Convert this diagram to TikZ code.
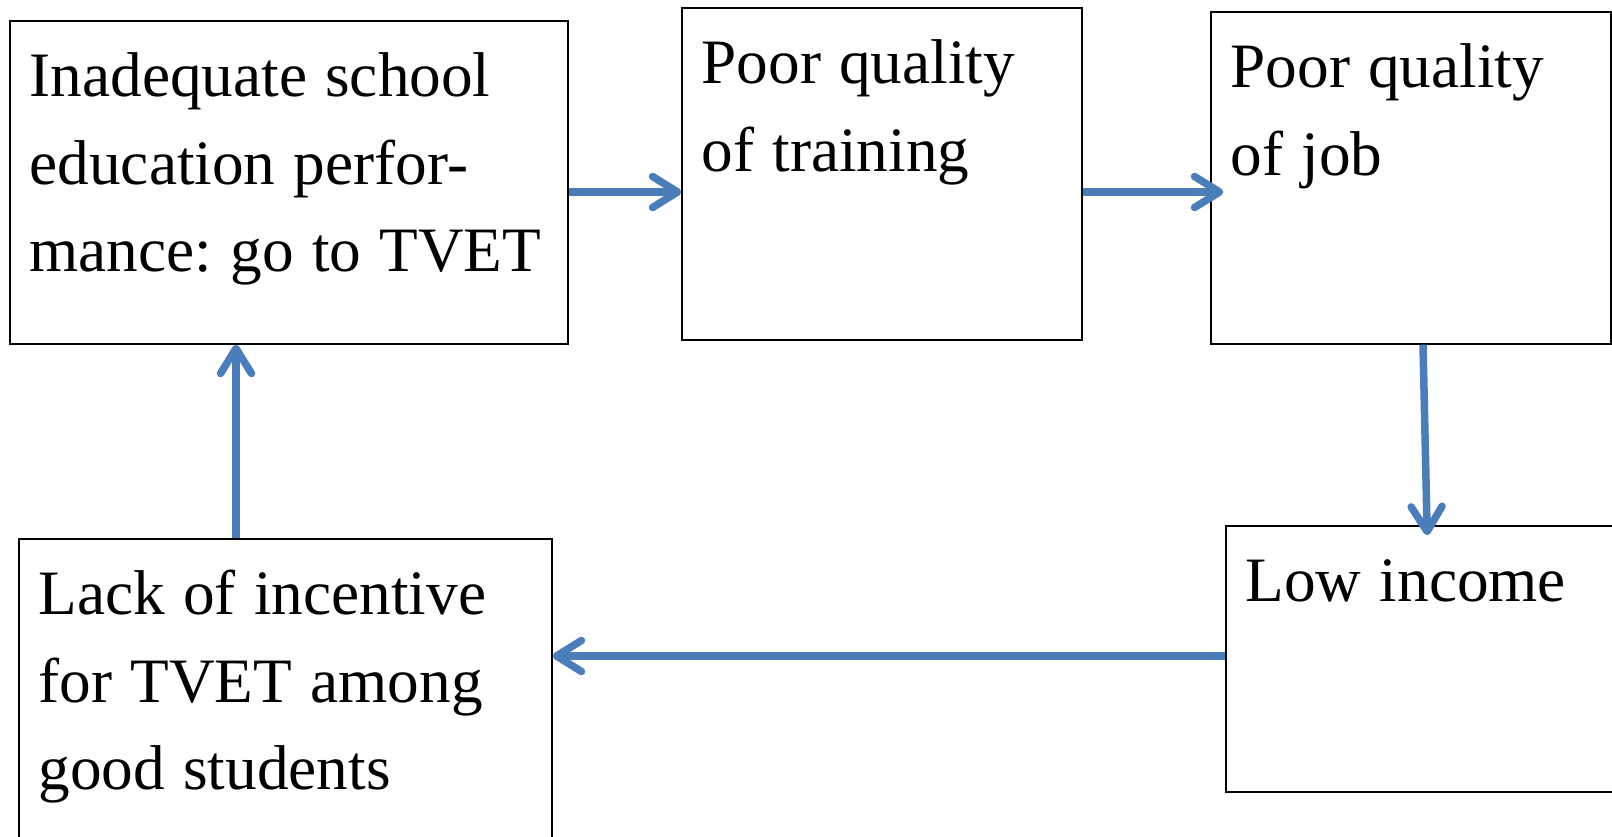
\documentclass[tikz,border=0pt]{standalone}
\usepackage{fontspec}
\setmainfont{Liberation Serif}
\frenchspacing
\usetikzlibrary{arrows.meta}
\definecolor{arrowblue}{HTML}{4A7EBB}

\begin{document}
\begin{tikzpicture}[x=0.02cm, y=-0.02cm,
        box/.style={draw=black, line width=0.03cm, inner sep=0pt},
        txt/.style={anchor=base west, inner sep=0pt, align=left, text width=14cm,
            font=\fontsize{36}{50}\selectfont,
            execute at begin node={\spaceskip=10.4pt\relax}},
        flow/.style={draw=arrowblue, line width=0.15cm,
            -{Straight Barb[length=0.5cm, width=0.62cm, round]}}]
    \useasboundingbox (0,0) rectangle (1612,837);
    \clip (0,0) rectangle (1612,837);

    \node[box, minimum width=11.16cm, minimum height=6.46cm] (school) at (289,182.5) {};
    \node[box, minimum width=8cm, minimum height=6.64cm] (training) at (882,174) {};
    \node[box, minimum width=8cm, minimum height=6.64cm] (job) at (1411,178) {};
    \node[box, minimum width=8cm, minimum height=5.32cm] (income) at (1426,659) {};
    \node[box, minimum width=10.66cm, minimum height=6.46cm] (incentive) at (285.5,700.5) {};

    \node[txt] (schooltext) at ([shift={(20,76)}]school.north west)
        {Inadequate school\\education perfor-\\mance: go to TVET};
    \node[txt] (trainingtext) at ([shift={(20,76)}]training.north west)
        {Poor quality\\of training};
    \node[txt] (jobtext) at ([shift={(20,76)}]job.north west)
        {Poor quality\\of job};
    \node[txt] (incometext) at ([shift={(20,76)}]income.north west)
        {Low income};
    \node[txt] (incentivetext) at ([shift={(20,76)}]incentive.north west)
        {Lack of incentive\\for TVET among\\good students};

    \draw[flow] (school.east |- 0,192) -- (training.west |- 0,192);
    \draw[flow, shorten >=-0.26cm] (training.east |- 0,192) -- (job.west |- 0,192);
    \draw[flow, shorten >=-0.2cm] (job.south -| 1423,0) -- (income.north -| 1427,0);
    \draw[flow] (income.west |- 0,656) -- (incentive.east |- 0,656);
    \draw[flow] (incentive.north -| 236,0) -- (school.south -| 236,0);
\end{tikzpicture}
\end{document}
